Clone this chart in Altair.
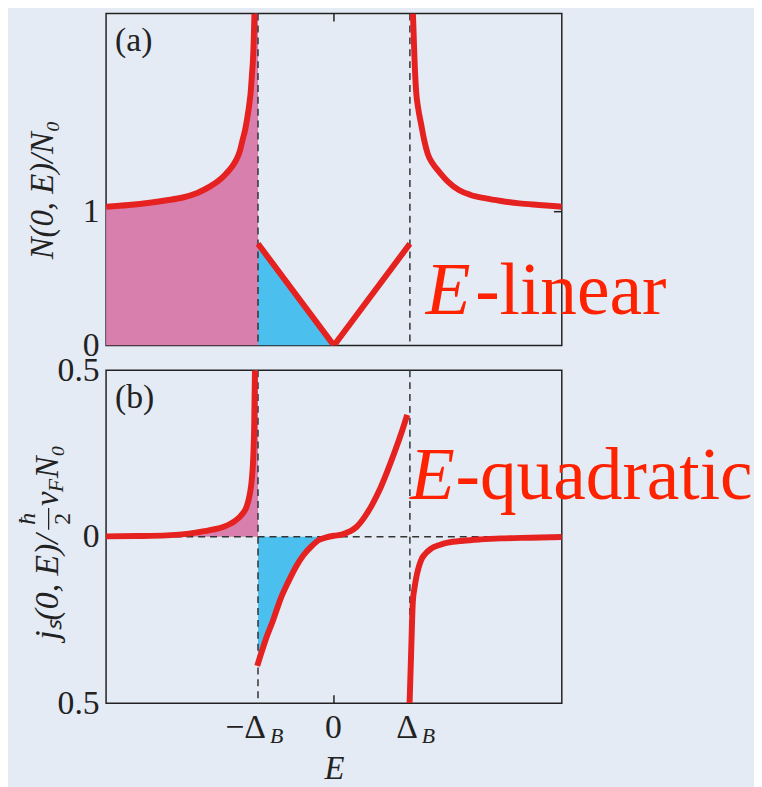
import altair as alt
import pandas as pd

# ---------------- data ----------------
# panel (a): N(0,E)/N0, E in units of Delta_B
a_left_E = [-3.0, -2.7, -2.425, -2.2, -1.99, -1.8, -1.641, -1.5, -1.42, -1.35, -1.29,
            -1.24, -1.205, -1.17, -1.14, -1.115, -1.095, -1.08, -1.065, -1.055, -1.047]
a_left_N = [1.037, 1.05, 1.067, 1.085, 1.106, 1.14, 1.185, 1.24, 1.284, 1.33, 1.383,
            1.45, 1.531, 1.61, 1.704, 1.80, 1.90, 2.02, 2.148, 2.3, 2.48]
a_mid_E = [-1.0, 0.0, 1.0]
a_mid_N = [0.76, 0.0, 0.76]
a_right_E = [1.04, 1.045, 1.06, 1.082, 1.11, 1.148, 1.19, 1.235, 1.3, 1.388, 1.5,
             1.65, 1.8, 2.0, 2.2, 2.44, 2.7, 3.0]
a_right_N = [2.48, 2.4, 2.15, 1.90, 1.77, 1.654, 1.53, 1.432, 1.36, 1.296, 1.225,
             1.16, 1.125, 1.099, 1.08, 1.062, 1.05, 1.037]

# panel (b): j_s(0,E) / (hbar/2 v_F N0)
b_left_E = [-3.0, -2.6, -2.2, -2.0, -1.8, -1.6, -1.45, -1.3, -1.2, -1.15, -1.11,
            -1.08, -1.06, -1.05, -1.04]
b_left_j = [0.001, 0.002, 0.004, 0.007, 0.013, 0.021, 0.030, 0.048, 0.07, 0.09, 0.125,
            0.175, 0.25, 0.33, 0.5]
b_mid_E = [-1.01, -0.9, -0.8, -0.7, -0.6, -0.5, -0.4, -0.3, -0.2, -0.1, 0.0,
           0.1, 0.2, 0.3, 0.4, 0.5, 0.6, 0.7, 0.8, 0.9, 0.965]
b_mid_j = [-0.388, -0.31, -0.25, -0.185, -0.135, -0.09, -0.055, -0.03, -0.01, -0.002, 0.003,
           0.006, 0.015, 0.03, 0.058, 0.095, 0.14, 0.195, 0.255, 0.32, 0.366]
b_right_E = [0.996, 1.017, 1.039, 1.06, 1.082, 1.148, 1.2, 1.278, 1.4, 1.497,
             1.7, 1.932, 2.2, 2.586, 3.0]
b_right_j = [-0.5, -0.343, -0.194, -0.155, -0.125, -0.07, -0.052, -0.036, -0.024, -0.018,
             -0.012, -0.008, -0.005, -0.003, -0.001]

gap_edges = [-1.0, 1.0]
x_ticks = [-1, 0, 1]
x_tick_main = ["−Δ", "0", "Δ"]
x_sub_pos = [-1, 1]
x_sub_text = ["B", "B"]
ya_ticks = [0, 1]
ya_tick_labels = ["0", "1"]
yb_ticks = [-0.5, 0, 0.5]
yb_tick_labels = ["0.5", "0", "0.5"]

# ---------------- style ----------------
SERIF = "Liberation Serif"
PINK = "#D97FAE"
BLUE = "#4BC0EE"
RED = "#E52220"
TXT_RED = "#FF2200"
INK = "#222222"
BG = "#E4EBF4"
W, HA, HB = 460, 335, 336
YMAX_A = 2.48
LW = 6
TICKFS = 34

xs = alt.Scale(domain=[-3, 3], nice=False, zero=False)
ya_s = alt.Scale(domain=[0, YMAX_A], nice=False, zero=False)
yb_s = alt.Scale(domain=[-0.5, 0.5], nice=False, zero=False)


def seg_df(parts, ycol):
    rows = []
    for name, es, vs in parts:
        for e, v in zip(es, vs):
            rows.append({"E": e, ycol: v, "seg": name})
    return pd.DataFrame(rows)


def label_expr(vals, labs):
    s = f'"{labs[-1]}"'
    for v, l in zip(reversed(vals[:-1]), reversed(labs[:-1])):
        s = f'datum.value == {v} ? "{l}" : ' + s
    return s


def rot_text(t, x, y, size=32, italic=True, align="left"):
    kw = dict(font=SERIF, fontSize=size, color=INK, angle=270, align=align, baseline="alphabetic")
    if italic:
        kw["fontStyle"] = "italic"
    return alt.Chart(pd.DataFrame({"t": [t]})).mark_text(**kw).encode(
        text="t:N", x=alt.value(x), y=alt.value(y))


# ---------------- panel (a) ----------------
ya_axis = alt.Axis(values=ya_ticks, labelExpr=label_expr(ya_ticks, ya_tick_labels),
                   labelFont=SERIF, labelFontSize=TICKFS, labelColor=INK,
                   ticks=False, domain=False, grid=False, title=None, labelPadding=7)
X = lambda: alt.X("E:Q", scale=xs, axis=None)

pink_a = alt.Chart(pd.DataFrame({"E": a_left_E + [-1.0], "N": a_left_N + [YMAX_A]})).mark_area(
    color=PINK, opacity=1, clip=True, interpolate="monotone").encode(
    x=X(), y=alt.Y("N:Q", scale=ya_s, axis=ya_axis))
blue_a = alt.Chart(pd.DataFrame({"E": a_mid_E[:2], "N": a_mid_N[:2]})).mark_area(
    color=BLUE, opacity=1, clip=True).encode(
    x=X(), y=alt.Y("N:Q", scale=ya_s))
dash_a = alt.Chart(pd.DataFrame({"E": gap_edges})).mark_rule(
    color="#333", strokeWidth=1.5, strokeDash=[7, 5]).encode(x=X())
tick_top_a = alt.Chart(pd.DataFrame({"E": [0]})).mark_rule(color=INK, strokeWidth=1.5).encode(
    x=X(), y=alt.value(0), y2=alt.value(8))
tick_right_a = alt.Chart(pd.DataFrame({"N": [1]})).mark_rule(color=INK, strokeWidth=1.5).encode(
    y=alt.Y("N:Q", scale=ya_s), x=alt.value(W - 8), x2=alt.value(W))
line_a = alt.Chart(seg_df([("l", a_left_E, a_left_N), ("r", a_right_E, a_right_N)], "N")).mark_line(
    color=RED, strokeWidth=LW, clip=True, interpolate="monotone").encode(
    x=X(), y=alt.Y("N:Q", scale=ya_s), detail="seg:N")
line_a_mid = alt.Chart(pd.DataFrame({"E": a_mid_E, "N": a_mid_N})).mark_line(
    color=RED, strokeWidth=LW, clip=True, interpolate="linear").encode(
    x=X(), y=alt.Y("N:Q", scale=ya_s))
lab_a = alt.Chart(pd.DataFrame({"t": ["(a)"]})).mark_text(
    font=SERIF, fontSize=34, color=INK, align="left", baseline="alphabetic").encode(
    text="t:N", x=alt.value(9), y=alt.value(38))
ytitle_a = alt.Chart(pd.DataFrame({"t": ["N(0, E)/N₀"]})).mark_text(
    font=SERIF, fontSize=33, fontStyle="italic", color=INK, angle=270,
    align="center", baseline="middle").encode(
    text="t:N", x=alt.value(-64), y=alt.value(178))
ann_a1 = alt.Chart(pd.DataFrame({"E": [1.21], "N": [0.237], "t": ["E"]})).mark_text(
    font=SERIF, fontSize=74, fontStyle="italic", color=TXT_RED, align="left",
    baseline="alphabetic").encode(x=X(), y=alt.Y("N:Q", scale=ya_s), text="t:N")
ann_a2 = alt.Chart(pd.DataFrame({"E": [1.86], "N": [0.237], "t": ["-linear"]})).mark_text(
    font=SERIF, fontSize=74, color=TXT_RED, align="left",
    baseline="alphabetic").encode(x=X(), y=alt.Y("N:Q", scale=ya_s), text="t:N")

panel_a = alt.layer(pink_a, blue_a, dash_a, tick_top_a, tick_right_a, line_a, line_a_mid,
                    lab_a, ytitle_a, ann_a1, ann_a2).properties(width=W, height=HA)

# ---------------- panel (b) ----------------
yb_axis = alt.Axis(values=yb_ticks, labelExpr=label_expr(yb_ticks, yb_tick_labels),
                   labelFont=SERIF, labelFontSize=TICKFS,
                   labelColor=INK, ticks=False, domain=False, grid=False, title=None, labelPadding=7)
xb_axis = alt.Axis(labels=False, ticks=False, domain=False, grid=False, title="E",
                   titleFont=SERIF, titleFontSize=33, titleFontStyle="italic",
                   titleFontWeight="normal", titleColor=INK, titlePadding=50)
XB = lambda: alt.X("E:Q", scale=xs, axis=xb_axis)

pink_b = alt.Chart(pd.DataFrame({"E": b_left_E + [-1.0], "j": b_left_j + [0.5]})).mark_area(
    color=PINK, opacity=1, clip=True, interpolate="monotone").encode(
    x=XB(), y=alt.Y("j:Q", scale=yb_s, axis=yb_axis))
bm_E = [-1.0] + [e for e in b_mid_E if -1.0 < e <= 0.0]
bm_j = [b_mid_j[0]] + [j for e, j in zip(b_mid_E, b_mid_j) if -1.0 < e <= 0.0]
blue_b = alt.Chart(pd.DataFrame({"E": bm_E, "j": bm_j})).mark_area(
    color=BLUE, opacity=1, clip=True, interpolate="monotone").encode(
    x=XB(), y=alt.Y("j:Q", scale=yb_s))
dash_bv = alt.Chart(pd.DataFrame({"E": gap_edges})).mark_rule(
    color="#333", strokeWidth=1.5, strokeDash=[7, 5]).encode(x=XB())
dash_bh = alt.Chart(pd.DataFrame({"j": [0.0]})).mark_rule(
    color="#333", strokeWidth=1.5, strokeDash=[7, 5]).encode(y=alt.Y("j:Q", scale=yb_s))
tick_bot_b = alt.Chart(pd.DataFrame({"E": [0]})).mark_rule(color=INK, strokeWidth=1.5).encode(
    x=XB(), y=alt.value(HB - 8), y2=alt.value(HB))
line_b = alt.Chart(seg_df([("l", b_left_E, b_left_j), ("m", b_mid_E, b_mid_j),
                           ("r", b_right_E, b_right_j)], "j")).mark_line(
    color=RED, strokeWidth=LW, clip=True, interpolate="monotone").encode(
    x=XB(), y=alt.Y("j:Q", scale=yb_s), detail="seg:N")
lab_b = alt.Chart(pd.DataFrame({"t": ["(b)"]})).mark_text(
    font=SERIF, fontSize=34, color=INK, align="left", baseline="alphabetic").encode(
    text="t:N", x=alt.value(9), y=alt.value(38))
xt_main = alt.Chart(pd.DataFrame({"E": x_ticks, "t": x_tick_main})).mark_text(
    font=SERIF, fontSize=TICKFS, color=INK, align="right", baseline="alphabetic", dx=8).encode(
    x=XB(), y=alt.value(HB + 35), text="t:N")
xt_sub = alt.Chart(pd.DataFrame({"E": x_sub_pos, "t": x_sub_text})).mark_text(
    font=SERIF, fontSize=22, fontStyle="italic", color=INK, align="left",
    baseline="alphabetic", dx=12).encode(
    x=XB(), y=alt.value(HB + 40), text="t:N")

# rotated y title pieces:  j_s(0,E) / (hbar over 2) v_F N_0
yt1 = rot_text("jₛ(0, E)/", -49, 272, size=34)
yt_h = rot_text("ħ", -72, 150, size=24, align="center")
yt_2 = rot_text("2", -36, 150, size=24, italic=False, align="center")
yt_bar = alt.Chart(pd.DataFrame({"t": ["-"]})).mark_rule(color=INK, strokeWidth=1.3).encode(
    x=alt.value(-58), x2=alt.value(-58), y=alt.value(139), y2=alt.value(161))
yt_v = rot_text("v", -49, 137, size=33)
yt_F = rot_text("F", -43, 123, size=22)
yt_N = rot_text("N₀", -49, 109, size=33)

ann_b1 = alt.Chart(pd.DataFrame({"E": [1.0], "j": [0.113], "t": ["E"]})).mark_text(
    font=SERIF, fontSize=74, fontStyle="italic", color=TXT_RED, align="left",
    baseline="alphabetic").encode(x=XB(), y=alt.Y("j:Q", scale=yb_s), text="t:N")
ann_b2 = alt.Chart(pd.DataFrame({"E": [1.601], "j": [0.113], "t": ["-quadratic"]})).mark_text(
    font=SERIF, fontSize=74, color=TXT_RED, align="left",
    baseline="alphabetic").encode(x=XB(), y=alt.Y("j:Q", scale=yb_s), text="t:N")

panel_b = alt.layer(pink_b, blue_b, dash_bv, dash_bh, tick_bot_b, line_b, lab_b,
                    xt_main, xt_sub, yt1, yt_h, yt_2, yt_bar, yt_v, yt_F, yt_N,
                    ann_b1, ann_b2).properties(width=W, height=HB)

chart = alt.vconcat(panel_a, panel_b, spacing=25, bounds="flush").properties(
    padding={"left": 7, "top": 0, "right": 0, "bottom": 0}
).configure(background=BG).configure_view(stroke=INK, strokeWidth=1.5)

chart.save("out.html", embed_options={"renderer": "svg", "actions": False})
